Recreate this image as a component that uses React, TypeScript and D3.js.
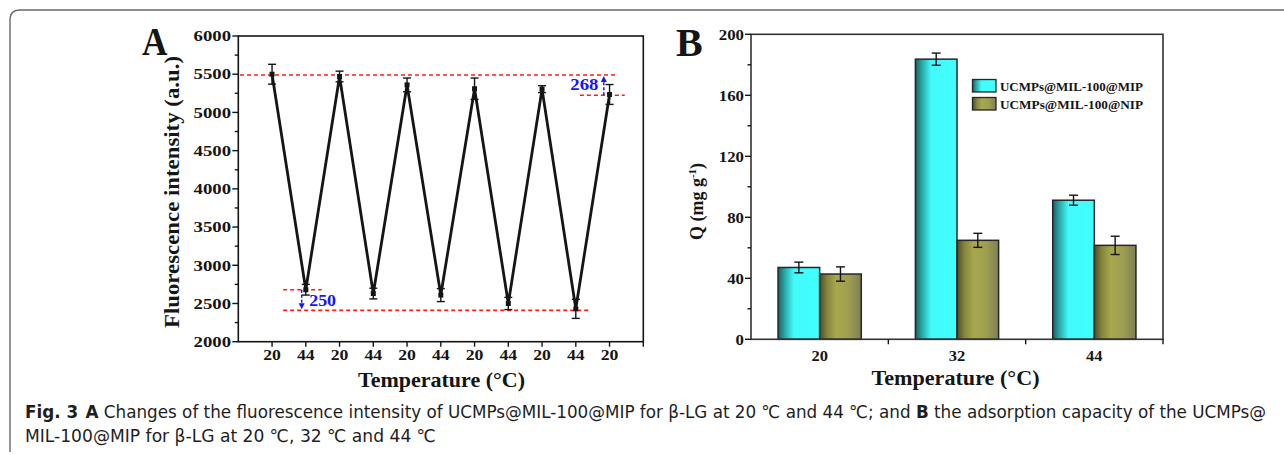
import React from "react";
import * as d3 from "d3";

// ---------- Data: panel A (fluorescence cycling) ----------
const tempLabelsA = ["20", "44", "20", "44", "20", "44", "20", "44", "20", "44", "20"];
const intensityA = [5500, 2680, 5470, 2630, 5360, 2610, 5310, 2500, 5305, 2430, 5235];
const intensityErrA = [130, 70, 70, 70, 90, 85, 140, 80, 45, 125, 130];
const yTicksA = [2000, 2500, 3000, 3500, 4000, 4500, 5000, 5500, 6000];
const yMinorTicksA = [2250, 2750, 3250, 3750, 4250, 4750, 5250, 5750];
// reference levels (a.u.) and their annotated differences
const refHighA = 5490;
const refHighEndA = 5225;
const refLowStartA = 2680;
const refLowA = 2410;
const diffLabelsA = ["268", "250"];

// ---------- Data: panel B (adsorption capacity) ----------
const categoriesB = ["20", "32", "44"];
const mipB = [47.1, 183.7, 91.2];
const mipErrB = [3.5, 4.0, 3.3];
const nipB = [42.8, 64.9, 61.6];
const nipErrB = [4.7, 4.6, 6.0];
const yTicksB = [0, 40, 80, 120, 160, 200];
const yMinorTicksB = [20, 60, 100, 140, 180];
const seriesNamesB = ["UCMPs@MIL-100@MIP", "UCMPs@MIL-100@NIP"];

const SERIF = "'Liberation Serif', 'Times New Roman', 'DejaVu Serif', serif";
const SANS = "'Liberation Sans Narrow', 'DejaVu Sans Condensed', 'Open Sans', sans-serif";
const INK = "#151515";

type STProps = {
  x: number;
  y: number;
  sx?: number;
  anchor?: "start" | "middle" | "end";
  size: number;
  weight?: string;
  fill?: string;
  dy?: string;
  children: React.ReactNode;
};

function ST({ x, y, sx = 1, anchor = "start", size, weight = "bold", fill = INK, dy, children }: STProps) {
  return (
    <text
      transform={`translate(${x},${y}) scale(${sx},1)`}
      textAnchor={anchor}
      fontSize={size}
      fontWeight={weight}
      fill={fill}
      fontFamily={SERIF}
      dy={dy}
    >
      {children}
    </text>
  );
}

function PanelA() {
  const x = d3.scaleLinear().domain([-1, 11]).range([238.3, 643.3]);
  const y = d3.scaleLinear().domain([2000, 6000]).range([341.7, 36]);
  const [x0, x1] = x.range();
  const [yb, yt] = y.range();
  const line = d3
    .line<number>()
    .x((_, i) => x(i))
    .y((d) => y(d));
  const red = "#ff1a1a";
  const blue = "#1414ff";

  const arrowRX = x(9.83);
  const arrowLX = x(0.878);

  return (
    <g>
      {/* A label */}
      <ST x={142} y={55} size={40} sx={0.88} weight="bold">A</ST>

      {/* red reference lines */}
      <g stroke={red} strokeWidth={1.6} strokeDasharray="4 3" fill="none">
        <line x1={x(-0.95)} x2={x(10.2)} y1={y(refHighA)} y2={y(refHighA)} />
        <line x1={x(9.12)} x2={x(10.45)} y1={y(refHighEndA)} y2={y(refHighEndA)} />
        <line x1={x(0.33)} x2={x(1.47)} y1={y(refLowStartA)} y2={y(refLowStartA)} />
        <line x1={x(0.33)} x2={x(9.42)} y1={y(refLowA)} y2={y(refLowA)} />
      </g>

      {/* blue arrows */}
      <g stroke={blue} strokeWidth={1.5} strokeDasharray="3 2" fill="none">
        <line x1={arrowRX} x2={arrowRX} y1={y(refHighEndA)} y2={y(refHighA) + 6} />
        <line x1={arrowLX} x2={arrowLX} y1={y(refLowStartA)} y2={y(refLowA) - 6} />
      </g>
      <polygon
        fill={blue}
        points={`${arrowRX - 3},${y(refHighA) + 7} ${arrowRX + 3},${y(refHighA) + 7} ${arrowRX},${y(refHighA) + 1}`}
      />
      <polygon
        fill={blue}
        points={`${arrowLX - 3},${y(refLowA) - 7} ${arrowLX + 3},${y(refLowA) - 7} ${arrowLX},${y(refLowA) - 1}`}
      />
      <ST x={x(9.67)} y={y(5293)} size={17} sx={1.1} anchor="end" fill={blue}>{diffLabelsA[0]}</ST>
      <ST x={x(1.1)} y={y(2467)} size={16} sx={1.12} fill={blue}>{diffLabelsA[1]}</ST>

      {/* data line */}
      <path d={line(intensityA) || ""} fill="none" stroke={INK} strokeWidth={2.8} strokeLinejoin="miter" />

      {/* error bars */}
      <g stroke={INK} strokeWidth={1.4}>
        {intensityA.map((v, i) => (
          <g key={i}>
            <line x1={x(i)} x2={x(i)} y1={y(v - intensityErrA[i])} y2={y(v + intensityErrA[i])} />
            <line x1={x(i) - 4} x2={x(i) + 4} y1={y(v - intensityErrA[i])} y2={y(v - intensityErrA[i])} />
            <line x1={x(i) - 4} x2={x(i) + 4} y1={y(v + intensityErrA[i])} y2={y(v + intensityErrA[i])} />
          </g>
        ))}
      </g>
      {intensityA.map((v, i) => (
        <rect key={i} x={x(i) - 2.5} y={y(v) - 2.5} width={5} height={5} fill={INK} />
      ))}

      {/* frame */}
      <rect x={x0} y={yt} width={x1 - x0} height={yb - yt} fill="none" stroke={INK} strokeWidth={1.6} />

      {/* ticks */}
      <g stroke={INK} strokeWidth={1.4}>
        {yTicksA.map((t) => (
          <line key={t} x1={x0 - 6} x2={x0} y1={y(t)} y2={y(t)} />
        ))}
        {yMinorTicksA.map((t) => (
          <line key={t} x1={x0 - 3.5} x2={x0} y1={y(t)} y2={y(t)} />
        ))}
        {tempLabelsA.map((_, i) => (
          <line key={i} x1={x(i)} x2={x(i)} y1={yb} y2={yb + 5} />
        ))}
        <line x1={x1} x2={x1} y1={yb} y2={yb + 5} />
      </g>
      {yTicksA.map((t) => (
        <ST key={t} x={231} y={y(t)} dy="0.35em" size={15} sx={1.25} anchor="end">{String(t)}</ST>
      ))}
      {tempLabelsA.map((l, i) => (
        <ST key={i} x={x(i)} y={360} size={15} sx={1.18} anchor="middle">{l}</ST>
      ))}

      {/* axis titles */}
      <text
        x={358}
        y={387}
        fontSize={21.5}
        fontWeight="bold"
        fill={INK}
        fontFamily={SERIF}
        textLength={167}
        lengthAdjust="spacingAndGlyphs"
      >
        Temperature (°C)
      </text>
      <text
        transform="translate(179,192) rotate(-90)"
        textAnchor="middle"
        fontSize={21}
        fontWeight="bold"
        fill={INK}
        fontFamily={SERIF}
        textLength={272}
        lengthAdjust="spacingAndGlyphs"
      >
        Fluorescence intensity (a.u.)
      </text>
    </g>
  );
}

function PanelB() {
  const x = d3.scaleBand<string>().domain(categoriesB).range([751, 1163]);
  const y = d3.scaleLinear().domain([0, 200]).range([339.3, 34.3]);
  const [x0, x1] = x.range();
  const [yb, yt] = y.range();
  const bw = x.bandwidth() * 0.303;
  const series = [
    { vals: mipB, errs: mipErrB, fill: "url(#gradMip)", off: -bw },
    { vals: nipB, errs: nipErrB, fill: "url(#gradNip)", off: 0 },
  ];
  const boundaries = categoriesB.slice(1).map((c) => x(c) as number);

  return (
    <g>
      <defs>
        <linearGradient id="gradMip" x1="0" x2="1" y1="0" y2="0">
          <stop offset="0" stopColor="#1c5f60" />
          <stop offset="0.15" stopColor="#2aa3a4" />
          <stop offset="0.38" stopColor="#44fafa" />
          <stop offset="1" stopColor="#40ffff" />
        </linearGradient>
        <linearGradient id="gradNip" x1="0" x2="1" y1="0" y2="0">
          <stop offset="0" stopColor="#4d4d26" />
          <stop offset="0.18" stopColor="#85853e" />
          <stop offset="0.4" stopColor="#a8a84e" />
          <stop offset="0.7" stopColor="#9e9e52" />
          <stop offset="1" stopColor="#7f7f58" />
        </linearGradient>
      </defs>

      <ST x={676} y={56} size={40} weight="bold">B</ST>

      {/* bars */}
      {series.map((s, si) =>
        categoriesB.map((c, ci) => {
          const cx = (x(c) as number) + x.bandwidth() / 2 + s.off;
          return (
            <rect
              key={`${si}-${ci}`}
              x={cx}
              y={y(s.vals[ci])}
              width={bw}
              height={yb - y(s.vals[ci])}
              fill={s.fill}
              stroke="#262626"
              strokeWidth={1.5}
            />
          );
        })
      )}
      {/* error bars */}
      <g stroke={INK} strokeWidth={1.4}>
        {series.map((s, si) =>
          categoriesB.map((c, ci) => {
            const cx = (x(c) as number) + x.bandwidth() / 2 + s.off + bw / 2;
            const lo = y(s.vals[ci] - s.errs[ci]);
            const hi = y(s.vals[ci] + s.errs[ci]);
            return (
              <g key={`${si}-${ci}`}>
                <line x1={cx} x2={cx} y1={lo} y2={hi} />
                <line x1={cx - 4.5} x2={cx + 4.5} y1={lo} y2={lo} />
                <line x1={cx - 4.5} x2={cx + 4.5} y1={hi} y2={hi} />
              </g>
            );
          })
        )}
      </g>

      {/* frame */}
      <rect x={x0} y={yt} width={x1 - x0} height={yb - yt} fill="none" stroke="#333" strokeWidth={1.6} />

      {/* ticks */}
      <g stroke={INK} strokeWidth={1.4}>
        {yTicksB.map((t) => (
          <line key={t} x1={x0 - 6} x2={x0} y1={y(t)} y2={y(t)} />
        ))}
        {yMinorTicksB.map((t) => (
          <line key={t} x1={x0 - 3.5} x2={x0} y1={y(t)} y2={y(t)} />
        ))}
        {boundaries.map((b, i) => (
          <line key={i} x1={b} x2={b} y1={yb} y2={yb + 5} />
        ))}
        <line x1={x1} x2={x1} y1={yb} y2={yb + 5} />
      </g>
      {yTicksB.map((t) => (
        <ST key={t} x={744} y={y(t)} dy="0.35em" size={15} sx={1.12} anchor="end">{String(t)}</ST>
      ))}
      {categoriesB.map((c) => (
        <ST key={c} x={(x(c) as number) + x.bandwidth() / 2} y={361} size={15} sx={1.1} anchor="middle">{c}</ST>
      ))}

      {/* legend */}
      {seriesNamesB.map((n, i) => (
        <g key={n}>
          <rect
            x={972.5}
            y={79.5 + i * 18}
            width={23.5}
            height={12.5}
            fill={series[i].fill}
            stroke="#262626"
            strokeWidth={1.3}
          />
          <text
            x={1000}
            y={90.5 + i * 18}
            fontSize={13}
            fontWeight="bold"
            fill={INK}
            fontFamily={SERIF}
            textLength={143}
            lengthAdjust="spacingAndGlyphs"
          >
            {n}
          </text>
        </g>
      ))}

      {/* axis titles */}
      <text
        x={871.5}
        y={385}
        fontSize={21.5}
        fontWeight="bold"
        fill={INK}
        fontFamily={SERIF}
        textLength={168}
        lengthAdjust="spacingAndGlyphs"
      >
        Temperature (°C)
      </text>
      <text
        transform="translate(703,201.5) rotate(-90)"
        textAnchor="middle"
        fontSize={18}
        fontWeight="bold"
        fill={INK}
        fontFamily={SERIF}
      >
        Q (mg g<tspan fontSize={11} dy={-7}>-1</tspan>
        <tspan dy={7}>)</tspan>
      </text>
    </g>
  );
}

export default function App() {
  return (
    <svg
      width={1284}
      height={455}
      viewBox="0 0 1284 455"
      style={{ position: "absolute", left: 0, top: 0, background: "#fff" }}
    >
      <rect x={0} y={0} width={1284} height={455} fill="#fff" />
      <path d="M10,452 L10,20 Q10,10 20,10 L1284,10" fill="none" stroke="#6a6a6a" strokeWidth={1.4} />
      <PanelA />
      <PanelB />
      <text
        x={25}
        y={418}
        fontFamily={SANS}
        fontSize={17.5}
        fill="#1e1e1e"
        textLength={1241}
        lengthAdjust="spacingAndGlyphs"
      >
        <tspan fontWeight="bold">Fig. 3</tspan>
        <tspan fontWeight="bold" dx={7}>A</tspan>
        <tspan>{" Changes of the fluorescence intensity of UCMPs@MIL-100@MIP for β-LG at 20 ℃ and 44 ℃; and "}</tspan>
        <tspan fontWeight="bold">B</tspan>
        <tspan>{" the adsorption capacity of the UCMPs@"}</tspan>
      </text>
      <text
        x={25}
        y={442}
        fontFamily={SANS}
        fontSize={17.5}
        fill="#1e1e1e"
        textLength={411}
        lengthAdjust="spacingAndGlyphs"
      >
        MIL-100@MIP for β-LG at 20 ℃, 32 ℃ and 44 ℃
      </text>
    </svg>
  );
}
